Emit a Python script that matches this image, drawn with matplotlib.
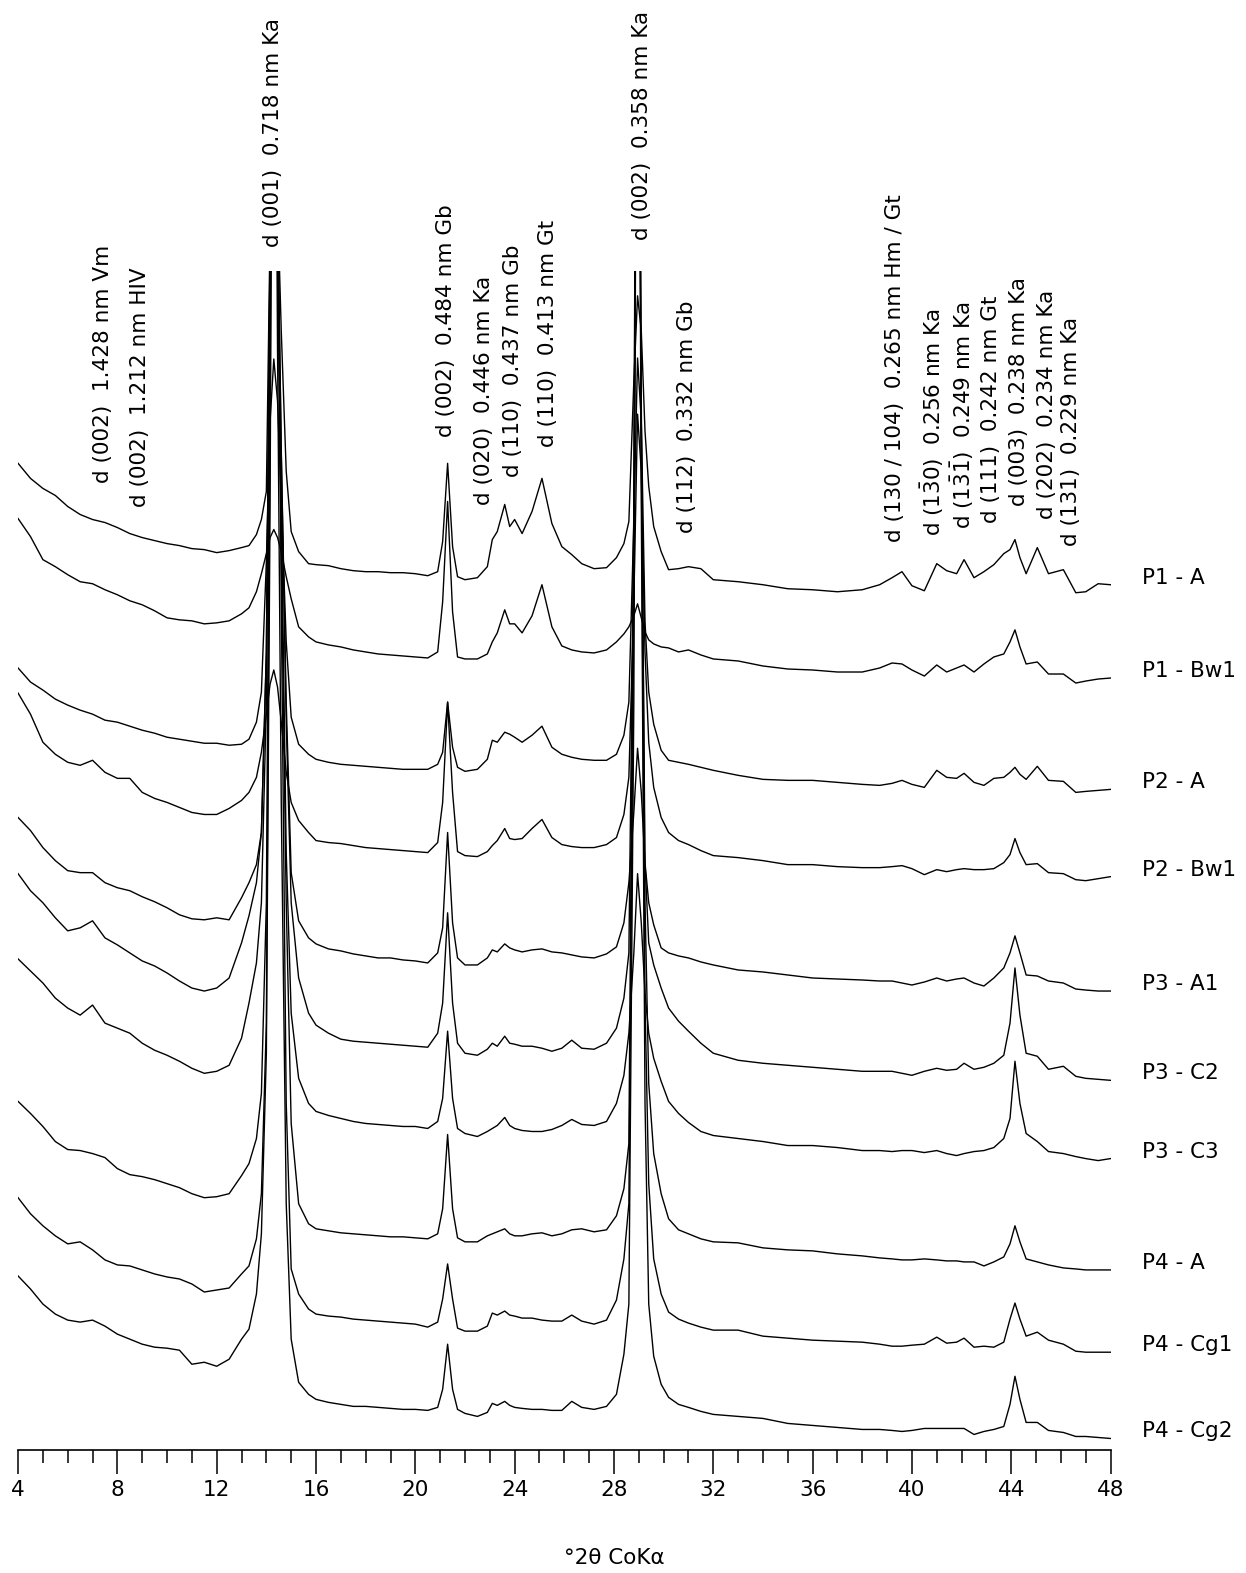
import matplotlib
matplotlib.use("Agg")
import matplotlib.pyplot as plt
from matplotlib.ticker import MultipleLocator

plt.rcParams['font.family'] = ['DejaVu Sans']
plt.rcParams['mathtext.fontset'] = 'dejavusans'
plt.rcParams['mathtext.default'] = 'regular'


# -------------------------------------------------------------------- #
# diffractograms, °2θ CoKα, intensities already stacked (offset included)
two_theta = [4.0, 4.5, 5.0, 5.5, 6.0, 6.5, 7.0, 7.5, 8.0, 8.5,
             9.0, 9.5, 10.0, 10.5, 11.0, 11.5, 12.0, 12.5, 13.0, 13.3,
             13.6, 13.8, 14.0, 14.15, 14.3, 14.45, 14.6, 14.8, 15.0, 15.3,
             15.7, 16.0, 16.5, 17.0, 17.5, 18.0, 18.5, 19.0, 19.5, 20.0,
             20.5, 20.9, 21.1, 21.3, 21.5, 21.7, 22.0, 22.5, 22.9, 23.1,
             23.3, 23.6, 23.8, 24.0, 24.3, 24.7, 25.1, 25.5, 25.9, 26.3,
             26.7, 27.2, 27.7, 28.1, 28.4, 28.6, 28.8, 28.95, 29.1, 29.25,
             29.4, 29.6, 29.9, 30.2, 30.6, 31.0, 31.5, 32.0, 33.0, 34.0,
             35.0, 36.0, 37.0, 38.0, 38.7, 39.2, 39.6, 40.0, 40.5, 41.0,
             41.4, 41.8, 42.1, 42.5, 42.9, 43.3, 43.7, 43.95, 44.15, 44.35,
             44.6, 45.05, 45.5, 46.1, 46.6, 47.0, 47.5, 48.0]

p1_a = [983, 968, 958, 951, 940, 932, 927, 924, 919, 913,
        909, 906, 903, 901, 898, 897, 894, 896, 899, 901,
        912, 927, 955, 1215, 2045, 1245, 1115, 975, 915, 895,
        883, 882, 881, 878, 876, 875, 875, 874, 874, 873,
        871, 875, 905, 983, 900, 870, 867, 869, 880, 907,
        915, 942, 920, 927, 913, 935, 968, 923, 900, 892,
        883, 878, 879, 889, 903, 925, 1065, 1150, 1115, 1015,
        960, 920, 895, 877, 878, 880, 878, 867, 865, 862,
        858, 857, 855, 857, 862, 869, 875, 861, 856, 883,
        876, 873, 887, 869, 875, 882, 893, 897, 907, 889,
        873, 899, 873, 877, 854, 855, 863, 862]

p1_bw1 = [928, 910, 887, 880, 872, 865, 863, 857, 852, 846,
          842, 836, 829, 827, 826, 823, 824, 826, 833, 839,
          855, 873, 893, 909, 917, 909, 895, 870, 848, 820,
          810, 805, 802, 800, 797, 795, 793, 792, 791, 790,
          789, 795, 845, 945, 835, 790, 788, 788, 793, 805,
          814, 837, 823, 823, 814, 831, 862, 820, 801, 797,
          795, 794, 797, 805, 813, 820, 831, 843, 829, 815,
          807, 803, 800, 799, 795, 797, 792, 788, 786, 781,
          778, 777, 775, 775, 779, 784, 783, 777, 771, 782,
          775, 779, 782, 775, 783, 790, 793, 805, 817, 800,
          783, 785, 773, 773, 764, 766, 768, 769]

p2_a = [779, 765, 757, 748, 742, 737, 733, 727, 725, 721,
        717, 714, 710, 708, 706, 704, 704, 702, 703, 708,
        725, 755, 885, 1025, 1087, 1045, 945, 805, 730, 703,
        693, 688, 685, 683, 682, 681, 680, 679, 678, 678,
        678, 683, 695, 745, 700, 680, 676, 678, 688, 707,
        705, 715, 713, 710, 705, 712, 721, 700, 693, 690,
        688, 687, 687, 693, 712, 745, 925, 1088, 1025, 825,
        755, 723, 697, 687, 685, 683, 680, 677, 672, 668,
        667, 667, 665, 663, 662, 664, 667, 663, 660, 677,
        670, 669, 674, 665, 662, 669, 670, 675, 680, 673,
        668, 681, 667, 666, 655, 656, 657, 658]

p2_bw1 = [754, 733, 705, 693, 685, 682, 687, 675, 669, 669,
          655, 649, 645, 640, 635, 633, 633, 639, 647, 655,
          670, 695, 733, 763, 777, 760, 725, 675, 645, 627,
          615, 607, 605, 604, 602, 600, 599, 598, 597, 596,
          595, 605, 645, 745, 655, 596, 592, 591, 596, 602,
          607, 619, 609, 608, 609, 619, 628, 610, 603, 601,
          600, 600, 603, 610, 633, 670, 845, 1032, 975, 795,
          705, 660, 630, 615, 607, 603, 597, 592, 590, 587,
          583, 583, 581, 580, 580, 581, 582, 579, 573, 578,
          576, 578, 579, 578, 578, 579, 585, 593, 609, 595,
          583, 584, 575, 574, 568, 567, 569, 571]

p3_a1 = [630, 617, 600, 587, 577, 575, 575, 565, 560, 557,
         551, 546, 540, 533, 529, 528, 530, 528, 550, 565,
         583, 615, 795, 1195, 1745, 1245, 995, 745, 575, 527,
         510, 504, 499, 497, 494, 492, 490, 490, 488, 487,
         485, 495, 520, 615, 525, 490, 483, 483, 490, 498,
         496, 504, 500, 498, 496, 498, 499, 496, 495, 493,
         491, 490, 494, 501, 525, 565, 635, 699, 655, 585,
         545, 523, 500, 495, 492, 490, 486, 483, 478, 476,
         473, 470, 469, 468, 467, 467, 465, 463, 466, 470,
         467, 469, 470, 465, 462, 470, 480, 495, 512, 495,
         473, 472, 467, 465, 459, 458, 457, 457]

p3_c2 = [574, 557, 545, 530, 517, 520, 527, 510, 503, 495,
         487, 482, 475, 467, 460, 457, 460, 470, 505, 532,
         565, 615, 795, 1205, 1745, 1245, 995, 725, 545, 470,
         435, 423, 415, 409, 407, 406, 405, 404, 403, 402,
         401, 415, 445, 535, 445, 405, 395, 393, 399, 405,
         402, 412, 405, 404, 402, 402, 400, 397, 400, 408,
         400, 399, 405, 420, 450, 495, 925, 1745, 1025, 585,
         505, 483, 460, 440, 427, 417, 405, 395, 388, 385,
         383, 381, 379, 377, 377, 377, 375, 373, 377, 380,
         378, 379, 385, 379, 381, 385, 393, 425, 480, 433,
         395, 392, 379, 382, 372, 370, 369, 368]

p3_c3 = [489, 477, 465, 450, 440, 433, 443, 425, 420, 415,
         405, 398, 393, 387, 380, 375, 377, 383, 410, 445,
         485, 545, 745, 1165, 1745, 1205, 945, 595, 435, 370,
         345, 337, 333, 330, 327, 325, 324, 323, 322, 322,
         320, 327, 350, 417, 350, 320, 315, 312, 317, 320,
         323, 331, 323, 320, 318, 317, 317, 319, 323, 329,
         324, 323, 327, 345, 373, 415, 495, 574, 525, 455,
         415, 390, 367, 347, 335, 326, 317, 313, 310, 307,
         303, 303, 301, 298, 298, 297, 298, 298, 296, 298,
         295, 293, 295, 297, 298, 301, 310, 330, 387, 345,
         315, 307, 297, 295, 292, 290, 288, 290]

p4_a = [347, 335, 322, 307, 299, 298, 295, 291, 280, 274,
        272, 269, 265, 261, 255, 251, 252, 255, 273, 285,
        310, 355, 545, 1115, 1745, 1195, 895, 545, 325, 245,
        225, 220, 218, 216, 215, 214, 213, 212, 212, 211,
        210, 215, 240, 314, 240, 211, 207, 207, 213, 215,
        217, 220, 215, 213, 213, 215, 216, 213, 215, 219,
        220, 217, 219, 233, 260, 305, 945, 1845, 1045, 545,
        365, 295, 255, 230, 219, 215, 210, 207, 206, 201,
        199, 198, 195, 193, 191, 190, 189, 189, 190, 189,
        188, 188, 187, 187, 183, 187, 192, 205, 223, 207,
        190, 187, 184, 181, 180, 179, 179, 179]

p4_cg1 = [251, 235, 223, 213, 205, 207, 199, 189, 184, 183,
          179, 175, 172, 170, 165, 157, 159, 161, 175, 183,
          210, 255, 425, 1045, 1745, 1295, 845, 345, 180, 155,
          140, 135, 133, 132, 130, 129, 128, 127, 126, 125,
          122, 127, 150, 185, 150, 121, 118, 118, 123, 136,
          134, 138, 134, 133, 131, 131, 129, 128, 128, 134,
          128, 125, 129, 149, 190, 245, 845, 1745, 995, 445,
          265, 190, 155, 137, 130, 126, 122, 119, 119, 113,
          111, 109, 108, 107, 105, 103, 103, 104, 105, 112,
          106, 107, 111, 102, 103, 102, 107, 130, 146, 130,
          113, 117, 109, 105, 98, 97, 97, 97]

p4_cg2 = [173, 160, 145, 135, 129, 127, 129, 123, 115, 110,
          105, 102, 101, 99, 85, 87, 83, 90, 110, 120,
          155, 215, 395, 945, 1745, 1095, 645, 245, 110, 67,
          55, 50, 47, 45, 43, 43, 42, 41, 40, 40,
          39, 42, 60, 105, 60, 40, 36, 33, 37, 46,
          44, 48, 44, 42, 41, 40, 40, 39, 39, 48,
          42, 40, 43, 55, 95, 145, 745, 1745, 945, 345,
          145, 93, 65, 52, 45, 42, 38, 35, 33, 31,
          26, 24, 22, 20, 20, 19, 18, 19, 21, 21,
          21, 21, 21, 15, 18, 20, 23, 45, 73, 50,
          27, 27, 19, 17, 13, 13, 12, 11]

samples = ['P1 - A', 'P1 - Bw1', 'P2 - A', 'P2 - Bw1', 'P3 - A1',
           'P3 - C2', 'P3 - C3', 'P4 - A', 'P4 - Cg1', 'P4 - Cg2']
traces = [p1_a, p1_bw1, p2_a, p2_bw1, p3_a1,
          p3_c2, p3_c3, p4_a, p4_cg1, p4_cg2]

# reflection labels: position (°2θ) and text
peak_pos = [7.42, 8.91, 14.27, 21.24, 22.77, 23.94, 25.35, 29.13, 30.95,
            39.31, 40.81, 42.02, 43.19, 44.32, 45.45, 46.42]
peak_labels = ['d (002)  1.428 nm Vm',
               'd (002)  1.212 nm HIV',
               'd (001)  0.718 nm Ka',
               'd (002)  0.484 nm Gb',
               'd (020)  0.446 nm Ka',
               'd (110)  0.437 nm Gb',
               'd (110)  0.413 nm Gt',
               'd (002)  0.358 nm Ka',
               'd (112)  0.332 nm Gb',
               'd (130 / 104)  0.265 nm Hm / Gt',
               r'd (1$\bar{3}$0)  0.256 nm Ka',
               r'd (1$\bar{3}\bar{1}$)  0.249 nm Ka',
               'd (111)  0.242 nm Gt',
               'd (003)  0.238 nm Ka',
               'd (202)  0.234 nm Ka',
               'd (131)  0.229 nm Ka']
# lower end of each rotated label, figure fraction
label_bottom = [0.6929, 0.6779, 0.8431, 0.7221, 0.6789, 0.6967, 0.7158,
                0.8474, 0.6611, 0.6556, 0.6594, 0.6639, 0.6677, 0.6786,
                0.6703, 0.6531]


# -------------------------------------------------------------------- #
def main():
    fs = 15.5

    fig = plt.figure(figsize=(12.46, 15.73), dpi=100)
    ax = fig.add_axes([0.0145, 0.0785, 0.8768, 0.7494])

    for name, y in zip(samples, traces):
        ax.plot(two_theta, y, color='black', lw=1.0)
        ax.text(49.25, y[-1] + 7, name, fontsize=fs, ha='left', va='center',
                clip_on=False)

    for pos, lbl, yb in zip(peak_pos, peak_labels, label_bottom):
        ax.annotate(lbl, xy=(pos, yb), xycoords=('data', 'figure fraction'),
                    rotation=90, ha='center', va='bottom', fontsize=fs,
                    annotation_clip=False)

    ax.set_xlim(4, 48)
    ax.set_ylim(0, 1175)
    ax.set_yticks([])
    for side in ['left', 'right', 'top']:
        ax.spines[side].set_visible(False)
    ax.spines['bottom'].set_linewidth(1.2)

    ax.xaxis.set_major_locator(MultipleLocator(4))
    ax.xaxis.set_minor_locator(MultipleLocator(1))
    ax.tick_params(axis='x', which='major', direction='out', length=17,
                   width=1.1, pad=5, labelsize=fs)
    ax.tick_params(axis='x', which='minor', direction='out', length=9.5,
                   width=1.1)

    fig.text(0.4928, 0.0096, '°2θ CoKα', ha='center', va='center', fontsize=fs)

    fig.savefig('out.png', dpi=100)


if __name__ == "__main__":
    main()
